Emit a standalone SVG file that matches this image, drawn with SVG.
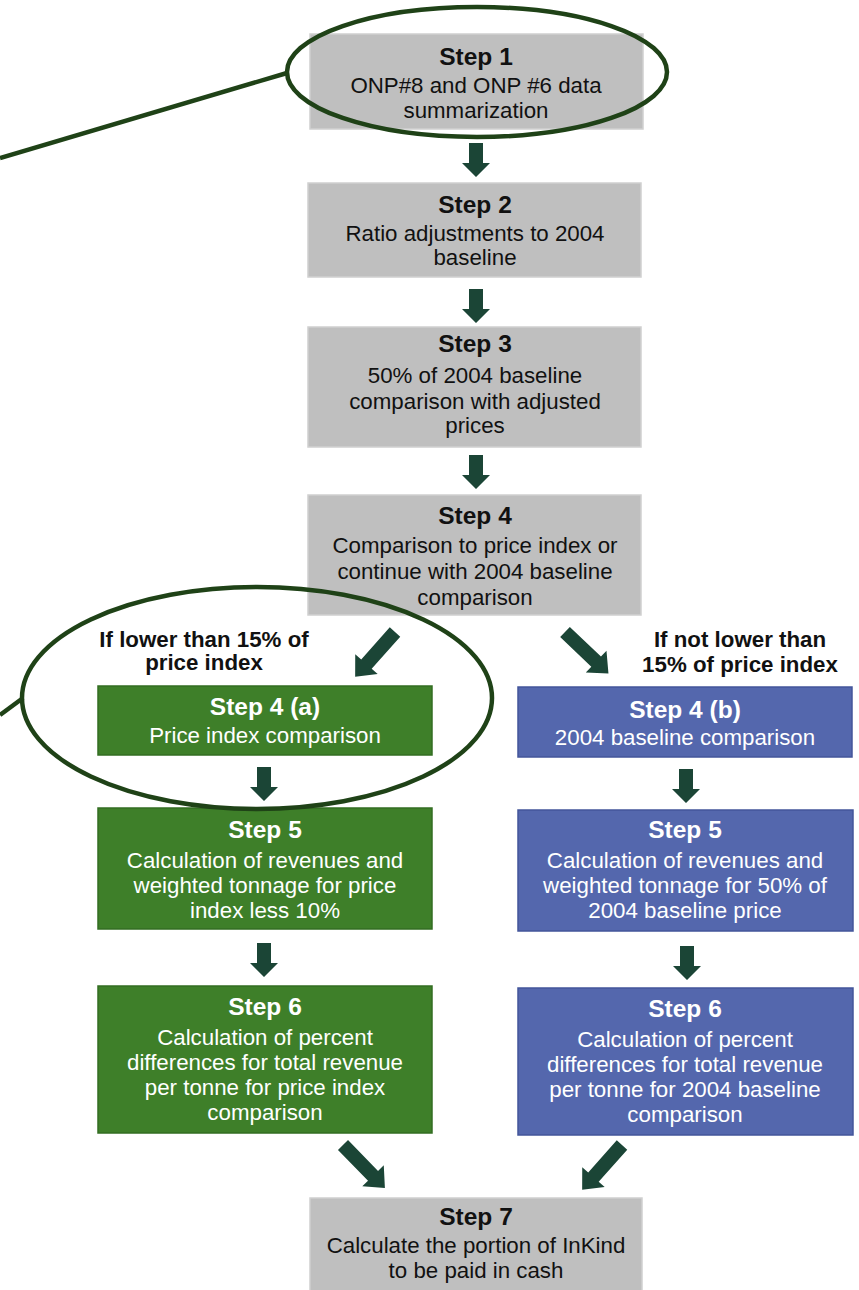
<svg xmlns="http://www.w3.org/2000/svg" width="859" height="1290" viewBox="0 0 859 1290">
<style>
  .gray{fill:#bfbfbf;stroke:#d0d0d0;stroke-width:1.5}
  .green{fill:#3e7f29;stroke:#336d22;stroke-width:1.5}
  .blue{fill:#5467ad;stroke:#43559a;stroke-width:1.5}
  text{font-family:"Liberation Sans",Arial,sans-serif;text-anchor:middle}
  .t{font-size:24.5px;font-weight:bold}
  .b{font-size:22.3px}
  .lbl{font-size:22.3px;font-weight:bold;fill:#111}
  .dk{fill:#111}
  .wh{fill:#fff}
  .arr{fill:#1b4536}
  .ring{fill:none;stroke:#1f4217;stroke-width:4.5}
</style>
<defs>
  <polygon id="va" points="-7,0 7,0 7,20 14,20 0,34 -14,20 -7,20"/>
  <polygon id="da" points="-7,0 7,0 7,43 15,43 0,60 -15,43 -7,43"/>
</defs>

<g id="step1">
  <rect class="gray" x="310" y="34" width="333" height="95"/>
  <text class="t dk" x="476" y="65">Step 1</text>
  <text class="b dk" x="476" y="93">ONP#8 and ONP #6 data</text>
  <text class="b dk" x="476" y="118">summarization</text>
</g>
<g id="step2">
  <rect class="gray" x="308" y="183" width="333" height="94"/>
  <text class="t dk" x="475" y="213">Step 2</text>
  <text class="b dk" x="475" y="241">Ratio adjustments to 2004</text>
  <text class="b dk" x="475" y="265">baseline</text>
</g>
<g id="step3">
  <rect class="gray" x="308" y="327" width="333" height="120"/>
  <text class="t dk" x="475" y="352">Step 3</text>
  <text class="b dk" x="475" y="383">50% of 2004 baseline</text>
  <text class="b dk" x="475" y="409">comparison with adjusted</text>
  <text class="b dk" x="475" y="433">prices</text>
</g>
<g id="step4">
  <rect class="gray" x="308" y="495" width="333" height="120"/>
  <text class="t dk" x="475" y="524">Step 4</text>
  <text class="b dk" x="475" y="553">Comparison to price index or</text>
  <text class="b dk" x="475" y="579">continue with 2004 baseline</text>
  <text class="b dk" x="475" y="605">comparison</text>
</g>
<g id="label-a">
  <text class="lbl" x="204" y="647">If lower than 15% of</text>
  <text class="lbl" x="204" y="670">price index</text>
</g>
<g id="label-b">
  <text class="lbl" x="740" y="647">If not lower than</text>
  <text class="lbl" x="740" y="672">15% of price index</text>
</g>
<g id="step4a">
  <rect class="green" x="98" y="686" width="334" height="69"/>
  <text class="t wh" x="265" y="715">Step 4 (a)</text>
  <text class="b wh" x="265" y="743">Price index comparison</text>
</g>
<g id="step4b">
  <rect class="blue" x="518" y="687" width="334" height="70"/>
  <text class="t wh" x="685" y="718">Step 4 (b)</text>
  <text class="b wh" x="685" y="745">2004 baseline comparison</text>
</g>
<g id="step5a">
  <rect class="green" x="98" y="808" width="334" height="121"/>
  <text class="t wh" x="265" y="838">Step 5</text>
  <text class="b wh" x="265" y="868">Calculation of revenues and</text>
  <text class="b wh" x="265" y="893">weighted tonnage for price</text>
  <text class="b wh" x="265" y="918">index less 10%</text>
</g>
<g id="step5b">
  <rect class="blue" x="518" y="810" width="335" height="121"/>
  <text class="t wh" x="685" y="838">Step 5</text>
  <text class="b wh" x="685" y="868">Calculation of revenues and</text>
  <text class="b wh" x="685" y="893">weighted tonnage for 50% of</text>
  <text class="b wh" x="685" y="918">2004 baseline price</text>
</g>
<g id="step6a">
  <rect class="green" x="98" y="986" width="334" height="147"/>
  <text class="t wh" x="265" y="1015">Step 6</text>
  <text class="b wh" x="265" y="1045">Calculation of percent</text>
  <text class="b wh" x="265" y="1070">differences for total revenue</text>
  <text class="b wh" x="265" y="1095">per tonne for price index</text>
  <text class="b wh" x="265" y="1120">comparison</text>
</g>
<g id="step6b">
  <rect class="blue" x="518" y="988" width="335" height="147"/>
  <text class="t wh" x="685" y="1017">Step 6</text>
  <text class="b wh" x="685" y="1047">Calculation of percent</text>
  <text class="b wh" x="685" y="1072">differences for total revenue</text>
  <text class="b wh" x="685" y="1097">per tonne for 2004 baseline</text>
  <text class="b wh" x="685" y="1122">comparison</text>
</g>
<g id="step7">
  <rect class="gray" x="310" y="1198" width="332" height="100"/>
  <text class="t dk" x="476" y="1225">Step 7</text>
  <text class="b dk" x="476" y="1253">Calculate the portion of InKind</text>
  <text class="b dk" x="476" y="1278">to be paid in cash</text>
</g>

<g id="connectors" class="arr">
  <use href="#va" x="476" y="143"/>
  <use href="#va" x="476" y="289"/>
  <use href="#va" x="476" y="455"/>
  <use href="#da" transform="translate(395,632) rotate(41.6)"/>
  <use href="#da" transform="translate(565,632) rotate(-46.4)"/>
  <use href="#va" x="264" y="767"/>
  <use href="#va" x="686" y="769"/>
  <use href="#va" x="264" y="943"/>
  <use href="#va" x="687" y="946"/>
  <use href="#da" transform="translate(343,1145) rotate(-44.3)"/>
  <use href="#da" transform="translate(622,1145) rotate(41.6)"/>
</g>

<g id="highlights">
  <ellipse class="ring" cx="477" cy="72" rx="190" ry="65"/>
  <line class="ring" x1="0" y1="158" x2="287" y2="73"/>
  <ellipse class="ring" cx="257" cy="698" rx="235" ry="111"/>
  <line class="ring" x1="0" y1="715" x2="23" y2="698"/>
</g>
</svg>
